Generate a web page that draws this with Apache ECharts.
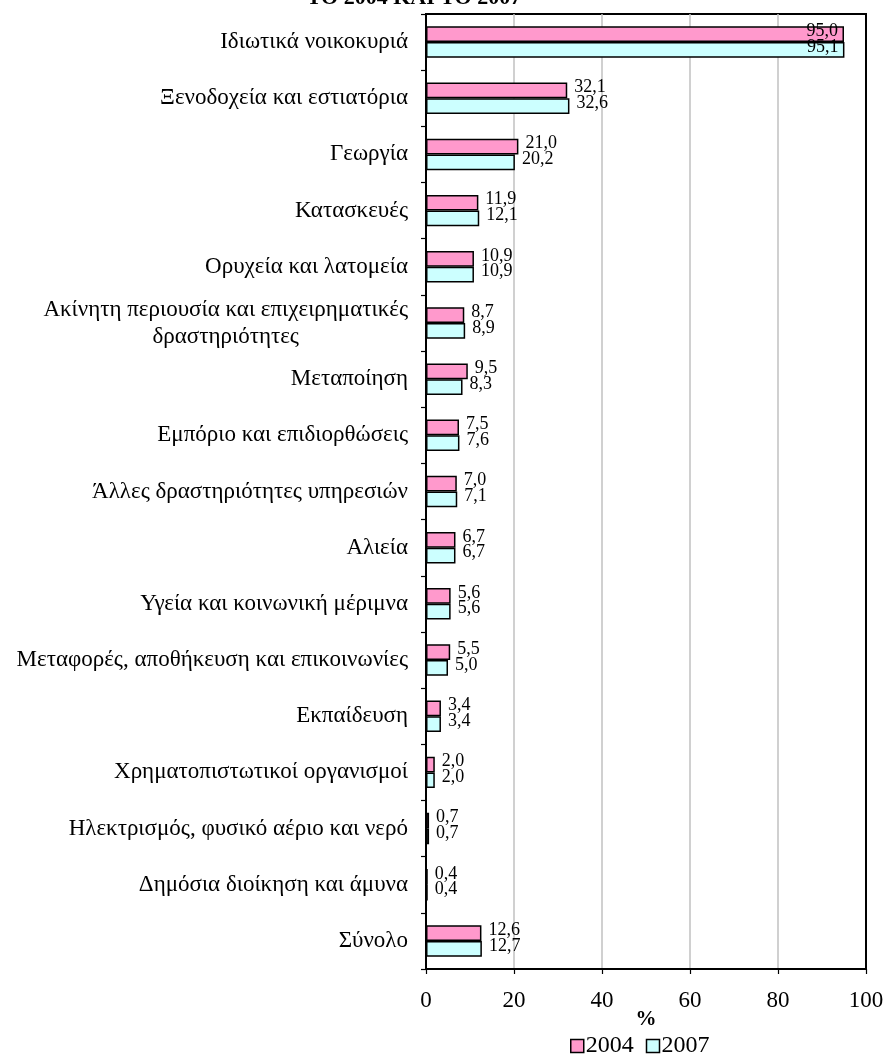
<!DOCTYPE html>
<html>
<head>
<meta charset="utf-8">
<script src="https://cdn.jsdelivr.net/npm/echarts@6/dist/echarts.min.js"></script>
<style>
  html, body { margin: 0; padding: 0; background: #fff; }
  #chart { width: 887px; height: 1057px; }
</style>
</head>
<body>
<div id="chart"></div>
<script>
// Sectors, top to bottom
const categories = [
  'Ιδιωτικά νοικοκυριά',
  'Ξενοδοχεία και εστιατόρια',
  'Γεωργία',
  'Κατασκευές',
  'Ορυχεία και λατομεία',
  'Ακίνητη περιουσία και επιχειρηματικές\nδραστηριότητες',
  'Μεταποίηση',
  'Εμπόριο και επιδιορθώσεις',
  'Άλλες δραστηριότητες υπηρεσιών',
  'Αλιεία',
  'Υγεία και κοινωνική μέριμνα',
  'Μεταφορές, αποθήκευση και επικοινωνίες',
  'Εκπαίδευση',
  'Χρηματοπιστωτικοί οργανισμοί',
  'Ηλεκτρισμός, φυσικό αέριο και νερό',
  'Δημόσια διοίκηση και άμυνα',
  'Σύνολο'
];
const values2004 = [95.0, 32.1, 21.0, 11.9, 10.9, 8.7, 9.5, 7.5, 7.0, 6.7, 5.6, 5.5, 3.4, 2.0, 0.7, 0.4, 12.6];
const values2007 = [95.1, 32.6, 20.2, 12.1, 10.9, 8.9, 8.3, 7.6, 7.1, 6.7, 5.6, 5.0, 3.4, 2.0, 0.7, 0.4, 12.7];
const seriesNames = ['2004', '2007'];
const xTicks = [0, 20, 40, 60, 80, 100];

const FONT = '"Liberation Serif", "DejaVu Serif", serif';
const fmt = v => v.toFixed(1).replace('.', ',');

// Long bars carry their label inside the bar end
const toData = arr => arr.map(v => v > 90
  ? { value: v, label: { position: 'insideRight', distance: 6 } }
  : v);

const chart = echarts.init(document.getElementById('chart'), null, { renderer: 'canvas' });

chart.setOption({
  animation: false,
  backgroundColor: '#fff',
  textStyle: { fontFamily: FONT, color: '#000' },
  grid: {
    left: 426, top: 14, right: 21, bottom: 88,
    show: true, borderColor: '#000', borderWidth: 2, backgroundColor: 'transparent'
  },
  graphic: [
    {
      type: 'text', x: 414, y: 9,
      style: {
        text: 'ΤΟ 2004 ΚΑΙ ΤΟ 2007', font: 'bold 22px ' + FONT, fill: '#000',
        align: 'center', verticalAlign: 'bottom'
      }
    }
  ],
  legend: {
    data: seriesNames,
    left: 570, top: 1034, padding: 0,
    icon: 'rect',
    itemWidth: 13, itemHeight: 13, itemGap: 12,
    itemStyle: { borderColor: '#000', borderWidth: 1.5 },
    textStyle: {
      fontFamily: FONT, fontSize: 24, lineHeight: 20, color: '#000',
      padding: [0, 0, 0, -3]
    }
  },
  xAxis: {
    type: 'value', min: 0, max: 100, interval: 20,
    name: '%', nameLocation: 'middle', nameGap: 40, nameMoveOverlap: false,
    nameTextStyle: { fontFamily: FONT, fontSize: 21, fontWeight: 'bold', color: '#000' },
    axisLine: { show: true, lineStyle: { color: '#000', width: 2 } },
    axisTick: { show: true, length: 5, lineStyle: { color: '#000', width: 1.2 } },
    axisLabel: {
      margin: 20, fontFamily: FONT, fontSize: 23, color: '#000',
      formatter: v => (xTicks.includes(v) ? String(v) : '')
    },
    splitLine: {
      show: true, showMinLine: false, showMaxLine: false,
      lineStyle: { color: '#c0c0c0', width: 1.5 }
    }
  },
  yAxis: {
    type: 'category', data: categories, inverse: true,
    axisLine: { show: true, lineStyle: { color: '#000', width: 2 } },
    axisTick: { show: true, length: 5, lineStyle: { color: '#000', width: 1.2 } },
    axisLabel: {
      margin: 18, fontFamily: FONT, fontSize: 23, color: '#000', lineHeight: 27,
      formatter: v => {
        const parts = v.split('\n');
        if (parts.length === 1) return v;
        return '{a|' + parts[0] + '}\n{c|' + parts[1] + '}';
      },
      rich: {
        a: { fontFamily: FONT, fontSize: 23, color: '#000', lineHeight: 27 },
        c: { fontFamily: FONT, fontSize: 23, color: '#000', lineHeight: 27, align: 'center' }
      }
    },
    splitLine: { show: false }
  },
  series: [
    {
      name: seriesNames[0], type: 'bar', data: toData(values2004),
      barGap: '0%', barCategoryGap: '44%',
      itemStyle: { color: '#ff99cc', borderColor: '#000', borderWidth: 1.5 },
      label: {
        show: true, position: 'right', distance: 7, offset: [0, -3],
        fontFamily: FONT, fontSize: 18, color: '#000', formatter: p => fmt(p.value)
      }
    },
    {
      name: seriesNames[1], type: 'bar', data: toData(values2007),
      barGap: '0%', barCategoryGap: '44%',
      itemStyle: { color: '#ccffff', borderColor: '#000', borderWidth: 1.5 },
      label: {
        show: true, position: 'right', distance: 7, offset: [0, -3],
        fontFamily: FONT, fontSize: 18, color: '#000', formatter: p => fmt(p.value)
      }
    }
  ]
});
</script>
</body>
</html>
